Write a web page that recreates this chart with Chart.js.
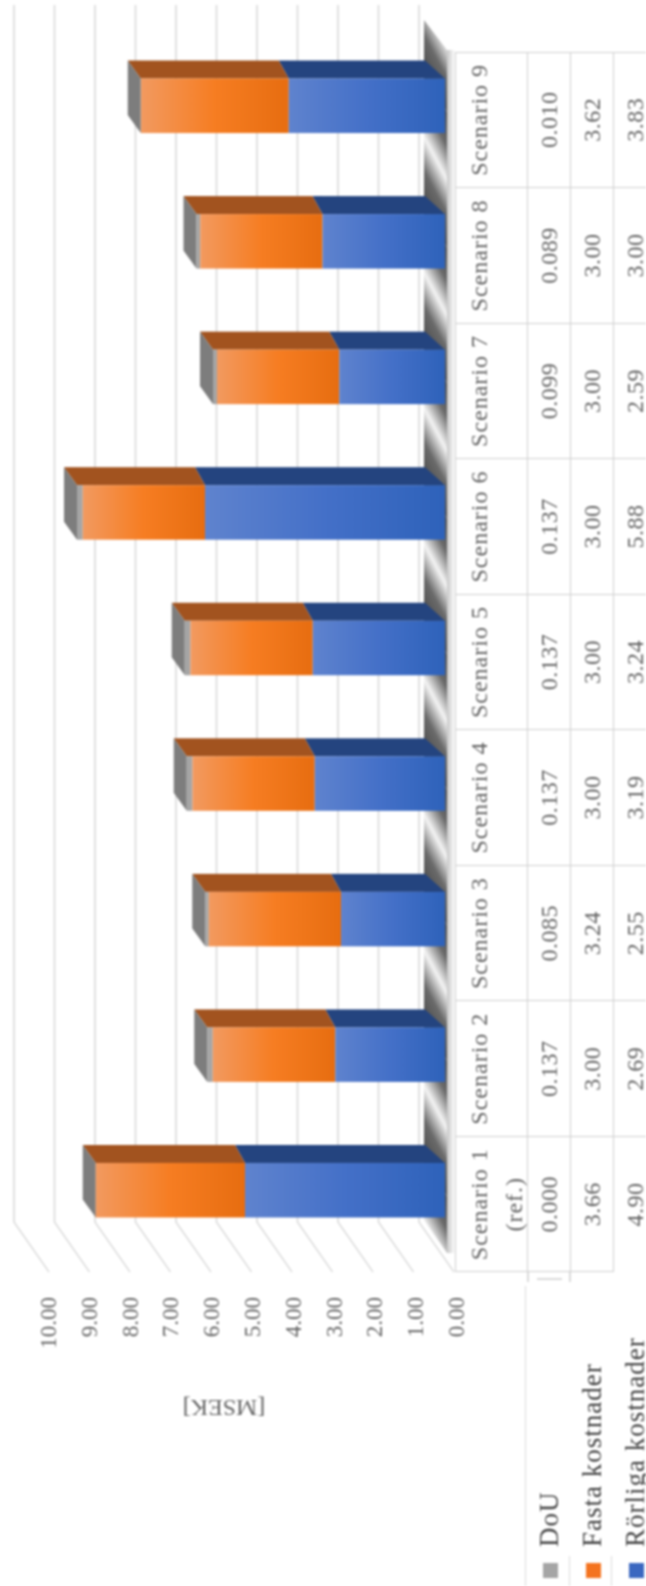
<!DOCTYPE html>
<html lang="sv">
  <head>
    <meta charset="UTF-8" />
    <title>Kostnader per scenario</title>
    <script src="https://cdn.jsdelivr.net/npm/chart.js@4/dist/chart.umd.min.js"></script>
    <style>
      html, body { margin: 0; padding: 0; background: #fff; overflow: hidden; }
      /* the whole chart is laid out upright, then turned a quarter to the left */
      #page {
        position: absolute;
        left: 0;
        top: 0;
        width: 1586px;
        height: 646px;
        overflow: hidden;
        background: #fff;
        transform-origin: 0 0;
        transform: translate(0, 1586px) rotate(-90deg);
        filter: blur(0.8px);
        font-family: "Liberation Serif", serif;
        color: #666;
      }
      #chart { position: absolute; left: 0; top: 0; }
      #table {
        position: absolute;
        left: 0;
        top: 455px;
        width: 1534px;
        border-collapse: collapse;
        table-layout: fixed;
        font-size: 24px;
        letter-spacing: 0.5px;
      }
      #table th, #table td {
        border: 1.5px solid #cfcfcf;
        padding: 0;
        text-align: center;
        font-weight: normal;
      }
      #table th { height: 72px; line-height: 35px; vertical-align: top; padding-top: 6px; box-sizing: border-box; letter-spacing: 1px; }
      #table th div { height: 60px; }
      #table td { height: 42px; }
      #table .key {
        border: none;
        text-align: left;
        font-size: 27px;
        letter-spacing: 1px;
        color: #444;
        white-space: nowrap;
        padding-left: 8px;
      }
      #table .swatch { display: inline-block; width: 15px; height: 15px; margin-right: 16px; }
      #table .open { border-left: none; }
      .rule { position: absolute; background: #dadada; }
    </style>
  </head>
  <body>
    <div id="page">
      <canvas id="chart" width="1586" height="646"></canvas>
      <table id="table"></table>
      <div class="rule" style="left:0;top:525px;width:300px;height:1px"></div>
      <div class="rule" style="left:304px;top:527px;width:10px;height:1.5px"></div>
      <div class="rule" style="left:304px;top:569px;width:10px;height:1.5px"></div>
      <div class="rule" style="left:306px;top:537px;width:1.5px;height:25px"></div>
      <div class="rule" style="left:0;top:569px;width:30px;height:1px"></div>
      <div class="rule" style="left:0;top:611px;width:30px;height:1px"></div>
    </div>
    <script>
      const categories = ['Scenario 1 (ref.)', 'Scenario 2', 'Scenario 3', 'Scenario 4', 'Scenario 5', 'Scenario 6', 'Scenario 7', 'Scenario 8', 'Scenario 9'];
      const rorliga = [4.90, 2.69, 2.55, 3.19, 3.24, 5.88, 2.59, 3.00, 3.83];
      const fasta = [3.66, 3.00, 3.24, 3.00, 3.00, 3.00, 3.00, 3.00, 3.62];
      const dou = [0.000, 0.137, 0.085, 0.137, 0.137, 0.137, 0.099, 0.089, 0.010];
      const axisTitle = '[MSEK]';

      const font = '"Liberation Serif", serif';

      // table under the plot, with the legend in its first column
      let rows = [
        { label: 'DoU', values: dou, digits: 3, color: '#a5a5a5' },
        { label: 'Fasta kostnader', values: fasta, digits: 2, color: '#f4731f' },
        { label: 'Rörliga kostnader', values: rorliga, digits: 2, color: '#3b67c0' },
      ];
      let html = '<colgroup><col style="width:314px" />' + categories.map(() => '<col style="width:135.56px" />').join('') + '</colgroup>';
      html += '<tr><th class="key"></th>' + categories.map(c => '<th><div>' + c + '</div></th>').join('') + '</tr>';
      rows.forEach((row, r) => {
        html += '<tr><td class="key"><span class="swatch" style="background:' + row.color + '"></span>' + row.label + '</td>';
        row.values.forEach((v, i) => {
          let open = (r === 2 && i === 0) ? ' class="open"' : '';
          html += '<td' + open + '>' + v.toFixed(row.digits) + '</td>';
        });
        html += '</tr>';
      });
      document.getElementById('table').innerHTML = html;

      let sideGradient = (chart, from, to, stops) => {
        let g = chart.ctx.createLinearGradient(0, from, 0, to);
        stops.forEach((c, i) => g.addColorStop(i / (stops.length - 1), c));
        return g;
      };

      let barFill = (lower, upper, stops, flat) => ctx => {
        let y = ctx.chart.scales.y;
        if (!ctx.chart.chartArea || ctx.dataIndex === undefined) return flat;
        let low = lower(ctx.dataIndex);
        return sideGradient(ctx.chart, y.getPixelForValue(low + upper[ctx.dataIndex]), y.getPixelForValue(low), stops);
      };

      let polygon = (c, pts, fill) => {
        c.beginPath();
        pts.forEach((p, i) => (i ? c.lineTo(p[0], p[1]) : c.moveTo(p[0], p[1])));
        c.closePath();
        c.fillStyle = fill;
        c.fill();
      };

      // fake 3D: back wall, floor and the side faces of the bars
      const box3d = {
        id: 'box3d',
        beforeDatasetsDraw(chart) {
          let c = chart.ctx;
          let x = chart.scales.x;
          let y = chart.scales.y;
          let step = x.getPixelForValue(1) - x.getPixelForValue(0);

          c.save();
          c.strokeStyle = '#d8d8d8';
          c.lineWidth = 1.5;
          y.ticks.forEach(t => {
            let wall = 419 + (y.getPixelForValue(t.value) - y.getPixelForValue(0)) * 40.5 / 40.8;
            c.beginPath();
            c.moveTo(1581, wall);
            c.lineTo(364, wall);
            c.lineTo(314, wall + 35);
            c.stroke();
          });

          // light edge in front of the floor
          let edge = c.createLinearGradient(0, 447, 0, 455);
          edge.addColorStop(0, '#c8c8c8');
          edge.addColorStop(1, '#ffffff');
          c.fillStyle = edge;
          c.fillRect(333, 447, 1203, 8);

          // floor strip, one shaded segment per category
          c.beginPath();
          c.moveTo(1566, 424);
          c.lineTo(366, 424);
          c.lineTo(333, 447);
          c.lineTo(1536, 447);
          c.closePath();
          c.clip();
          let nx = 24 / 51;
          let ny = 45 / 51;
          for (let i = 0; i < categories.length + 1; i++) {
            let mid = x.getPixelForValue(0) + i * step - 31;
            let half = step / 2;
            let span = step * nx;
            let g = c.createLinearGradient(mid - nx * span / 2, 424 - ny * span / 2, mid + nx * span / 2, 424 + ny * span / 2);
            g.addColorStop(0, '#4e4e4e');
            g.addColorStop(0.25, '#6a6a6a');
            g.addColorStop(0.5, '#f4f4f4');
            g.addColorStop(0.75, '#6a6a6a');
            g.addColorStop(1, '#4e4e4e');
            polygon(c, [[mid - half, 424], [mid + half, 424], [mid + half - 45, 448], [mid - half - 45, 448]], g);
          }
          c.restore();

          // top and end faces, taken from the bar elements
          let blue = chart.getDatasetMeta(0).data;
          let grey = chart.getDatasetMeta(2).data;
          const depth = 18;
          blue.forEach((b, i) => {
            let right = b.x + b.width / 2;
            let left = b.x - b.width / 2;
            let base = b.base;
            let mid = b.y;
            let top = grey[i].y;
            polygon(c, [[right, base], [right, mid], [right + depth, mid - 10], [right + depth, base - 20]], '#24447f');
            polygon(c, [[right, mid], [right, top], [right + depth, top - 13], [right + depth, mid - 10]], '#a2531f');
            polygon(c, [[left, top], [right, top], [right + depth, top - 13], [left + depth, top - 13]], '#7d7d7d');
          });
        },
        afterDraw(chart) {
          let c = chart.ctx;
          c.save();
          c.translate(180, 224);
          c.rotate(-Math.PI / 2);
          c.fillStyle = '#666';
          c.font = '24px ' + font;
          c.textAlign = 'center';
          c.textBaseline = 'middle';
          c.fillText(axisTitle, 0, 0);
          c.restore();
        },
      };

      let blueBelow = i => rorliga[i];

      new Chart(document.getElementById('chart'), {
        type: 'bar',
        data: {
          labels: categories,
          datasets: [
            {
              label: 'Rörliga kostnader',
              data: rorliga,
              backgroundColor: barFill(() => 0, rorliga, ['#5f83ce', '#4470c8', '#2e62ba'], '#3b67c0'),
            },
            {
              label: 'Fasta kostnader',
              data: fasta,
              backgroundColor: barFill(blueBelow, fasta, ['#f29a60', '#f67d22', '#e76d10'], '#f4731f'),
            },
            {
              label: 'DoU',
              data: dou,
              backgroundColor: '#a5a5a5',
            },
          ],
        },
        options: {
          responsive: false,
          animation: false,
          layout: { padding: { top: 37, bottom: 201, left: 0, right: 38 } },
          plugins: {
            legend: { display: false },
            tooltip: { enabled: false },
          },
          datasets: { bar: { barPercentage: 0.402, categoryPercentage: 1, borderWidth: 0 } },
          scales: {
            x: { stacked: true, display: false },
            y: {
              stacked: true,
              min: 0,
              max: 10,
              grid: { display: false, drawTicks: false },
              border: { display: false },
              // tick padding also ends up in the top margin, drop it
              afterFit: scale => {
                scale.width = 328;
                scale.paddingTop = 0;
                scale.paddingBottom = 0;
              },
              ticks: {
                stepSize: 1,
                padding: 39,
                labelOffset: 13,
                color: '#666',
                font: { family: font, size: 23 },
                callback: v => v.toFixed(2),
              },
            },
          },
        },
        plugins: [box3d],
      });
    </script>
  </body>
</html>
